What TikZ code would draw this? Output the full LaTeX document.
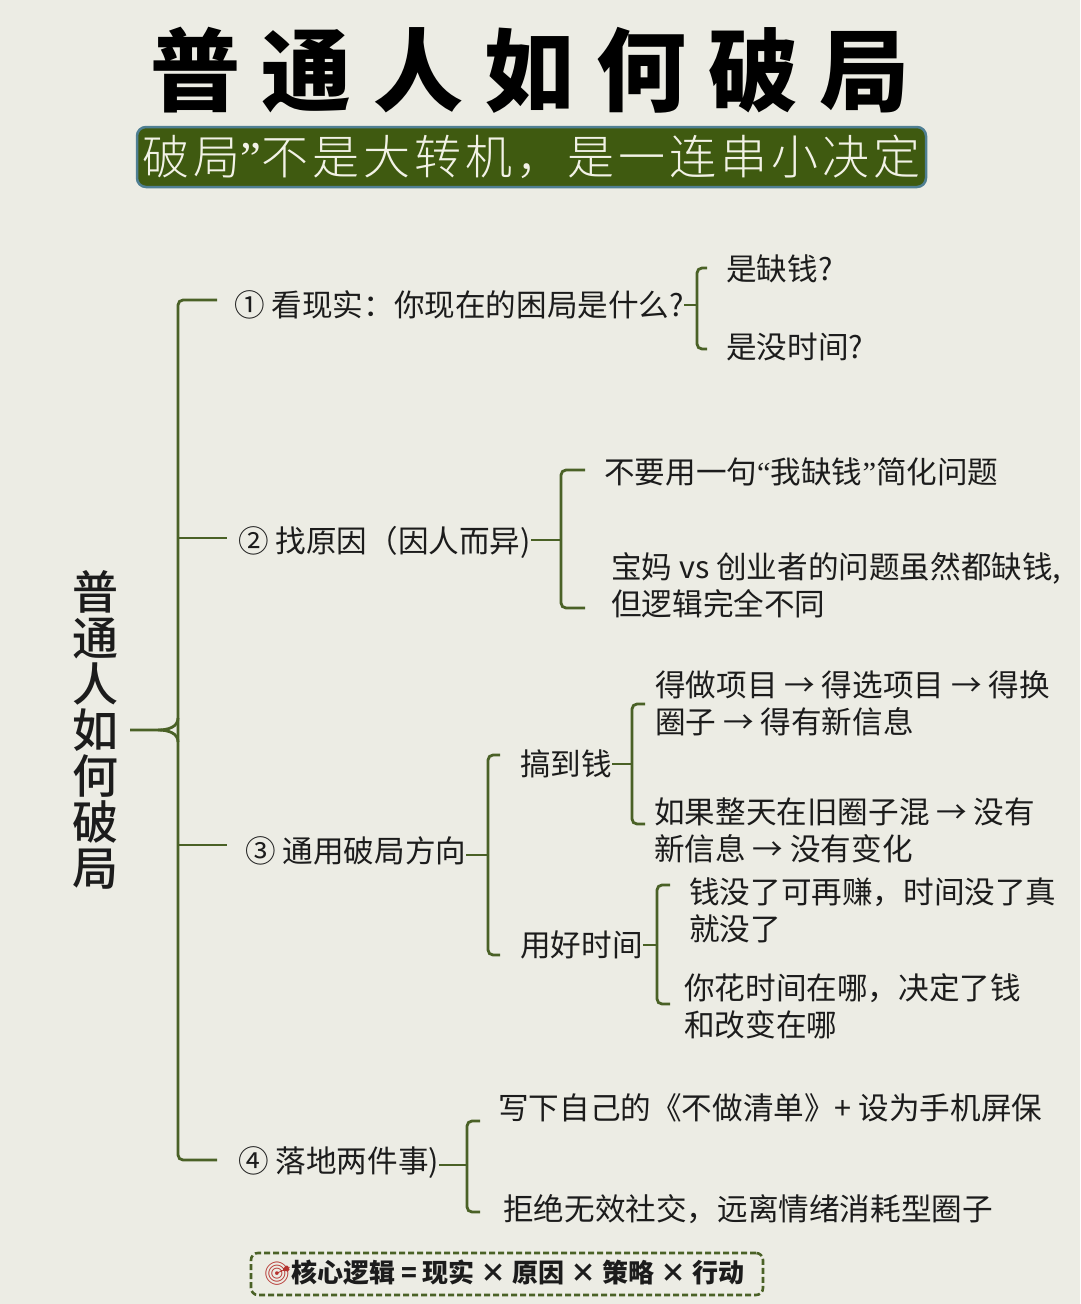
\documentclass[tikz,border=0pt]{standalone}
\usepackage{fontspec}
\setmainfont{Noto Sans CJK SC}
\newfontfamily\titlefont[LetterSpace=24]{Noto Sans CJK SC Black}
\newfontfamily\subfont[LetterSpace=8.5]{Noto Sans CJK SC Light}
\newfontfamily\rootfont{Noto Sans CJK SC Medium}
\newfontfamily\emojifont{Noto Emoji}
\newfontfamily\quotefont{Liberation Serif}
\definecolor{bgc}{HTML}{ECECE4}
\definecolor{linec}{HTML}{4A6126}
\definecolor{boxc}{HTML}{3F5A10}
\definecolor{boxedge}{HTML}{4F7F93}
\definecolor{textc}{HTML}{1C1C1C}
\definecolor{subc}{HTML}{F2F2E6}
\definecolor{dartc}{HTML}{B5322E}
\tikzset{
  txt/.style={anchor=west,inner sep=0pt,text=textc,align=left,font=\fontsize{30.6}{37}\selectfont},
  br/.style={draw=linec,line width=2.8pt,rounded corners=5pt},
  stub/.style={draw=linec,line width=2.8pt},
}
\begin{document}
\begin{tikzpicture}[x=1pt,y=-1pt]
\path[fill=bgc] (0,0) rectangle (1080,1304);
\useasboundingbox (0,0) rectangle (1080,1304);
% title
\node[inner sep=0pt,text=black] (title) at (530,70) {\fontsize{90}{90}\selectfont\titlefont 普通人如何破局};
\node[draw=boxedge,line width=2.5pt,fill=boxc,rounded corners=9pt,minimum width=789pt,minimum height=60pt,inner sep=0pt,text=subc] (sub) at (531.5,157) {\fontsize{47}{47}\selectfont\subfont 破局{\quotefont ”}不是大转机，是一连串小决定};
% root
\node[inner sep=0pt,minimum width=70pt,align=center,text=textc,font=\fontsize{46}{46}\selectfont\rootfont] (root) at (95,730) {普\\通\\人\\如\\何\\破\\局};
% level 1
\node[txt] (a1) at (234,305) {① 看现实：你现在的困局是什么?};
\node[txt] (a2) at (238,542) {② 找原因（因人而异)};
\node[txt] (a3) at (245,851) {③ 通用破局方向};
\node[txt] (a4) at (238,1163) {④ 落地两件事)};
% a1 children
\node[txt] (a1x) at (726,269) {是缺钱?};
\node[txt] (a1y) at (726,347) {是没时间?};
% a2 children
\node[txt] (a2x) at (604,472) {不要用一句{\quotefont “}我缺钱{\quotefont ”}简化问题};
\node[txt] (a2y) at (611,585) {宝妈 vs 创业者的问题虽然都缺钱,\\但逻辑完全不同};
% a3 children
\node[txt] (m) at (520,764) {搞到钱};
\node[txt] (t) at (520,945) {用好时间};
\node[txt] (mx) at (655,703) {得做项目 → 得选项目 → 得换\\圈子 → 得有新信息};
\node[txt] (my) at (654,830) {如果整天在旧圈子混 → 没有\\新信息 → 没有变化};
\node[txt] (tx) at (689,910) {钱没了可再赚，时间没了真\\就没了};
\node[txt] (ty) at (684,1006) {你花时间在哪，决定了钱\\和改变在哪};
% a4 children
\node[txt] (a4x) at (498,1108) {写下自己的《不做清单》+ 设为手机屏保};
\node[txt] (a4y) at (503,1209) {拒绝无效社交，远离情绪消耗型圈子};
% bottom
\node[draw=linec,line width=2.6pt,dash pattern=on 6pt off 3pt,rounded corners=7pt,minimum width=512pt,minimum height=42pt,inner sep=0pt] (foot) at (507,1274) {};
\node[inner sep=0pt,anchor=west,text=dartc,font=\fontsize{23}{24}\selectfont\emojifont] (dart) at (263,1274) {🎯};
\node[inner sep=0pt,anchor=west,text=textc,font=\fontsize{26}{26}\selectfont\bfseries] (core) at (291,1273) {核心逻辑 = 现实 × 原因 × 策略 × 行动};
% junctions and free ends
\coordinate (J0) at (178,730);
\coordinate (E0a) at (217,300); \coordinate (E0b) at (227,538); \coordinate (E0c) at (227,845); \coordinate (E0d) at (217,1160);
\coordinate (J1) at (697,305); \coordinate (E1a) at (707,268); \coordinate (E1b) at (707,349);
\coordinate (J2) at (561,540); \coordinate (E2a) at (585,470); \coordinate (E2b) at (585,608);
\coordinate (J3) at (488,855); \coordinate (E3a) at (500,755); \coordinate (E3b) at (500,955);
\coordinate (J4) at (632,764); \coordinate (E4a) at (645,704); \coordinate (E4b) at (645,824);
\coordinate (J5) at (657,945); \coordinate (E5a) at (670,885); \coordinate (E5b) at (670,1004);
\coordinate (J6) at (467,1165); \coordinate (E6a) at (480,1121); \coordinate (E6b) at (480,1212);
% main bracket
\draw[br] (E0a) -| (J0) |- (E0d);
\draw[stub] (J0 |- E0b) -- (E0b);
\draw[stub] (J0 |- E0c) -- (E0c);
\draw[stub] (root.east) -- (158,730) .. controls (168,730) and (178,727) .. (178,718);
\draw[stub] (158,730) .. controls (168,730) and (178,733) .. (178,742);
% branch brackets
\draw[br] (E1a) -| (J1) |- (E1b); \draw[stub] (a1.east) -- (J1);
\draw[br] (E2a) -| (J2) |- (E2b); \draw[stub] (a2.east |- J2) -- (J2);
\draw[br] (E3a) -| (J3) |- (E3b); \draw[stub] (a3.east |- J3) -- (J3);
\draw[br] (E4a) -| (J4) |- (E4b); \draw[stub] (m.east) -- (J4);
\draw[br] (E5a) -| (J5) |- (E5b); \draw[stub] (t.east) -- (J5);
\draw[br] (E6a) -| (J6) |- (E6b); \draw[stub] (a4.east |- J6) -- (J6);
\end{tikzpicture}
\end{document}
